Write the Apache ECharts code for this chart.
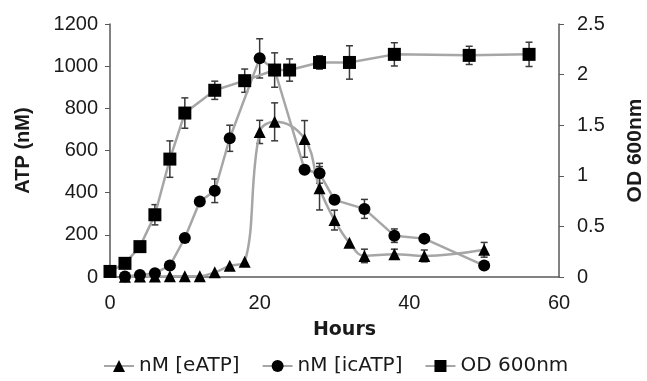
<!DOCTYPE html>
<html>
<head>
<meta charset="utf-8">
<script src="https://cdn.jsdelivr.net/npm/echarts@6/dist/echarts.min.js"></script>
<style>
  html, body {margin: 0; padding: 0; background: #fff;}
  #chart {width: 647px; height: 381px;}
</style>
</head>
<body>
<div id="chart"></div>
<script>
// eATP (nM), left axis
const eHours = [2, 4, 6, 8, 10, 12, 14, 16, 18, 20, 22, 26, 28, 30, 32, 34, 38, 42, 50];
const eATP   = [1, 2, 2, 3, 3, 4, 22, 53, 72, 688, 736, 655, 421, 270, 162, 100, 108, 100, 129];
const eErr   = [0, 0, 0, 0, 0, 0, 0, 0, 0, 55, 90, 87, 103, 47, 0, 32, 24, 28, 35];

// icATP (nM), left axis
const icHours = [2, 4, 6, 8, 10, 12, 14, 16, 20, 22, 26, 28, 30, 34, 38, 42, 50];
const icATP   = [2, 10, 18, 54, 185, 358, 409, 658, 1037, 983, 509, 492, 366, 323, 196, 182, 54];
const icErr   = [0, 0, 0, 0, 0, 0, 56, 62, 93, 0, 0, 47, 0, 45, 32, 0, 0];

// OD 600nm, right axis
const odHours = [0, 2, 4, 6, 8, 10, 14, 18, 22, 24, 28, 32, 38, 48, 56];
const od      = [0.055, 0.135, 0.30, 0.615, 1.165, 1.62, 1.845, 1.94, 2.045, 2.045, 2.12, 2.12, 2.20, 2.19, 2.20];
const odErr   = [0, 0, 0, 0.1, 0.18, 0.15, 0.09, 0.115, 0.17, 0.11, 0.066, 0.165, 0.115, 0.09, 0.12];

const seriesNames = ["nM [eATP]", "nM [icATP]", "OD 600nm"];

const FONT = "Liberation Sans, Arial, sans-serif";
const WIDE = "DejaVu Sans, sans-serif";
const LINE = "#a6a6a6";
const AXIS = "#595959";
const TEXT = "#1a1a1a";

const pairs = (xs, ys) => xs.map((x, i) => [x, ys[i]]);

function errorBars(xs, ys, errs, yAxisIndex) {
    return {
        type: "custom",
        yAxisIndex: yAxisIndex,
        z: 2,
        silent: true,
        data: xs.map((x, i) => [x, ys[i], errs[i]]).filter(d => d[2] > 0),
        renderItem: (params, api) => {
            const x = api.value(0), y = api.value(1), e = api.value(2);
            const top = api.coord([x, y + e]);
            const bot = api.coord([x, y - e]);
            const w = 3.5;
            const style = {stroke: "#3a3a3a", lineWidth: 1.5};
            return {
                type: "group",
                children: [
                    {type: "line", shape: {x1: top[0], y1: top[1], x2: bot[0], y2: bot[1]}, style},
                    {type: "line", shape: {x1: top[0] - w, y1: top[1], x2: top[0] + w, y2: top[1]}, style},
                    {type: "line", shape: {x1: bot[0] - w, y1: bot[1], x2: bot[0] + w, y2: bot[1]}, style}
                ]
            };
        }
    };
}

const myChart = echarts.init(document.getElementById("chart"));
myChart.setOption({
    animation: false,
    textStyle: {fontFamily: FONT},
    grid: {left: 110, right: 88, top: 24, bottom: 104, outerBoundsMode: "none", containLabel: false},
    legend: {
        data: seriesNames,
        left: 98,
        top: 351,
        itemWidth: 30,
        itemHeight: 15,
        itemGap: 22,
        textStyle: {fontSize: 20, color: TEXT, fontFamily: WIDE}
    },
    xAxis: {
        type: "value",
        min: 0,
        max: 60,
        interval: 20,
        name: "Hours",
        nameLocation: "middle",
        nameGap: 44,
        nameTextStyle: {fontSize: 19, fontWeight: "bold", color: TEXT, fontFamily: WIDE, padding: [0, 0, 0, 20]},
        splitLine: {show: false},
        axisLine: {lineStyle: {color: AXIS, width: 1.5}},
        axisTick: {show: false},
        axisLabel: {fontSize: 20, color: TEXT, margin: 16}
    },
    yAxis: [
        {
            type: "value",
            min: 0,
            max: 1200,
            interval: 200,
            name: "ATP (nM)",
            nameLocation: "middle",
            nameRotate: 90,
            nameGap: 77,
            nameTextStyle: {fontSize: 20, fontWeight: "bold", color: TEXT},
            splitLine: {show: false},
            axisLine: {show: true, lineStyle: {color: AXIS, width: 1.5}},
            axisTick: {show: true, length: 5, lineStyle: {color: AXIS}},
            axisLabel: {fontSize: 20, color: TEXT, margin: 12, formatter: v => String(v)}
        },
        {
            type: "value",
            min: 0,
            max: 2.5,
            interval: 0.5,
            position: "right",
            name: "OD 600nm",
            nameLocation: "middle",
            nameRotate: 90,
            nameGap: 66,
            nameTextStyle: {fontSize: 21, fontWeight: "bold", color: TEXT},
            splitLine: {show: false},
            axisLine: {show: true, lineStyle: {color: AXIS, width: 1.5}},
            axisTick: {show: true, length: 5, lineStyle: {color: AXIS}},
            axisLabel: {fontSize: 20, color: TEXT, margin: 18}
        }
    ],
    series: [
        errorBars(eHours, eATP, eErr, 0),
        errorBars(icHours, icATP, icErr, 0),
        errorBars(odHours, od, odErr, 1),
        {
            name: seriesNames[0],
            type: "line",
            yAxisIndex: 0,
            z: 3,
            smooth: 0.4,
            data: pairs(eHours, eATP),
            symbol: "triangle",
            symbolSize: 12,
            itemStyle: {color: "#000"},
            lineStyle: {color: LINE, width: 2.5}
        },
        {
            name: seriesNames[1],
            type: "line",
            yAxisIndex: 0,
            z: 4,
            data: pairs(icHours, icATP),
            symbol: "circle",
            symbolSize: 12,
            itemStyle: {color: "#000"},
            lineStyle: {color: LINE, width: 2.5}
        },
        {
            name: seriesNames[2],
            type: "line",
            yAxisIndex: 1,
            z: 5,
            data: pairs(odHours, od),
            symbol: "rect",
            symbolSize: 13,
            itemStyle: {color: "#000"},
            lineStyle: {color: LINE, width: 2.5}
        }
    ]
});
</script>
</body>
</html>
